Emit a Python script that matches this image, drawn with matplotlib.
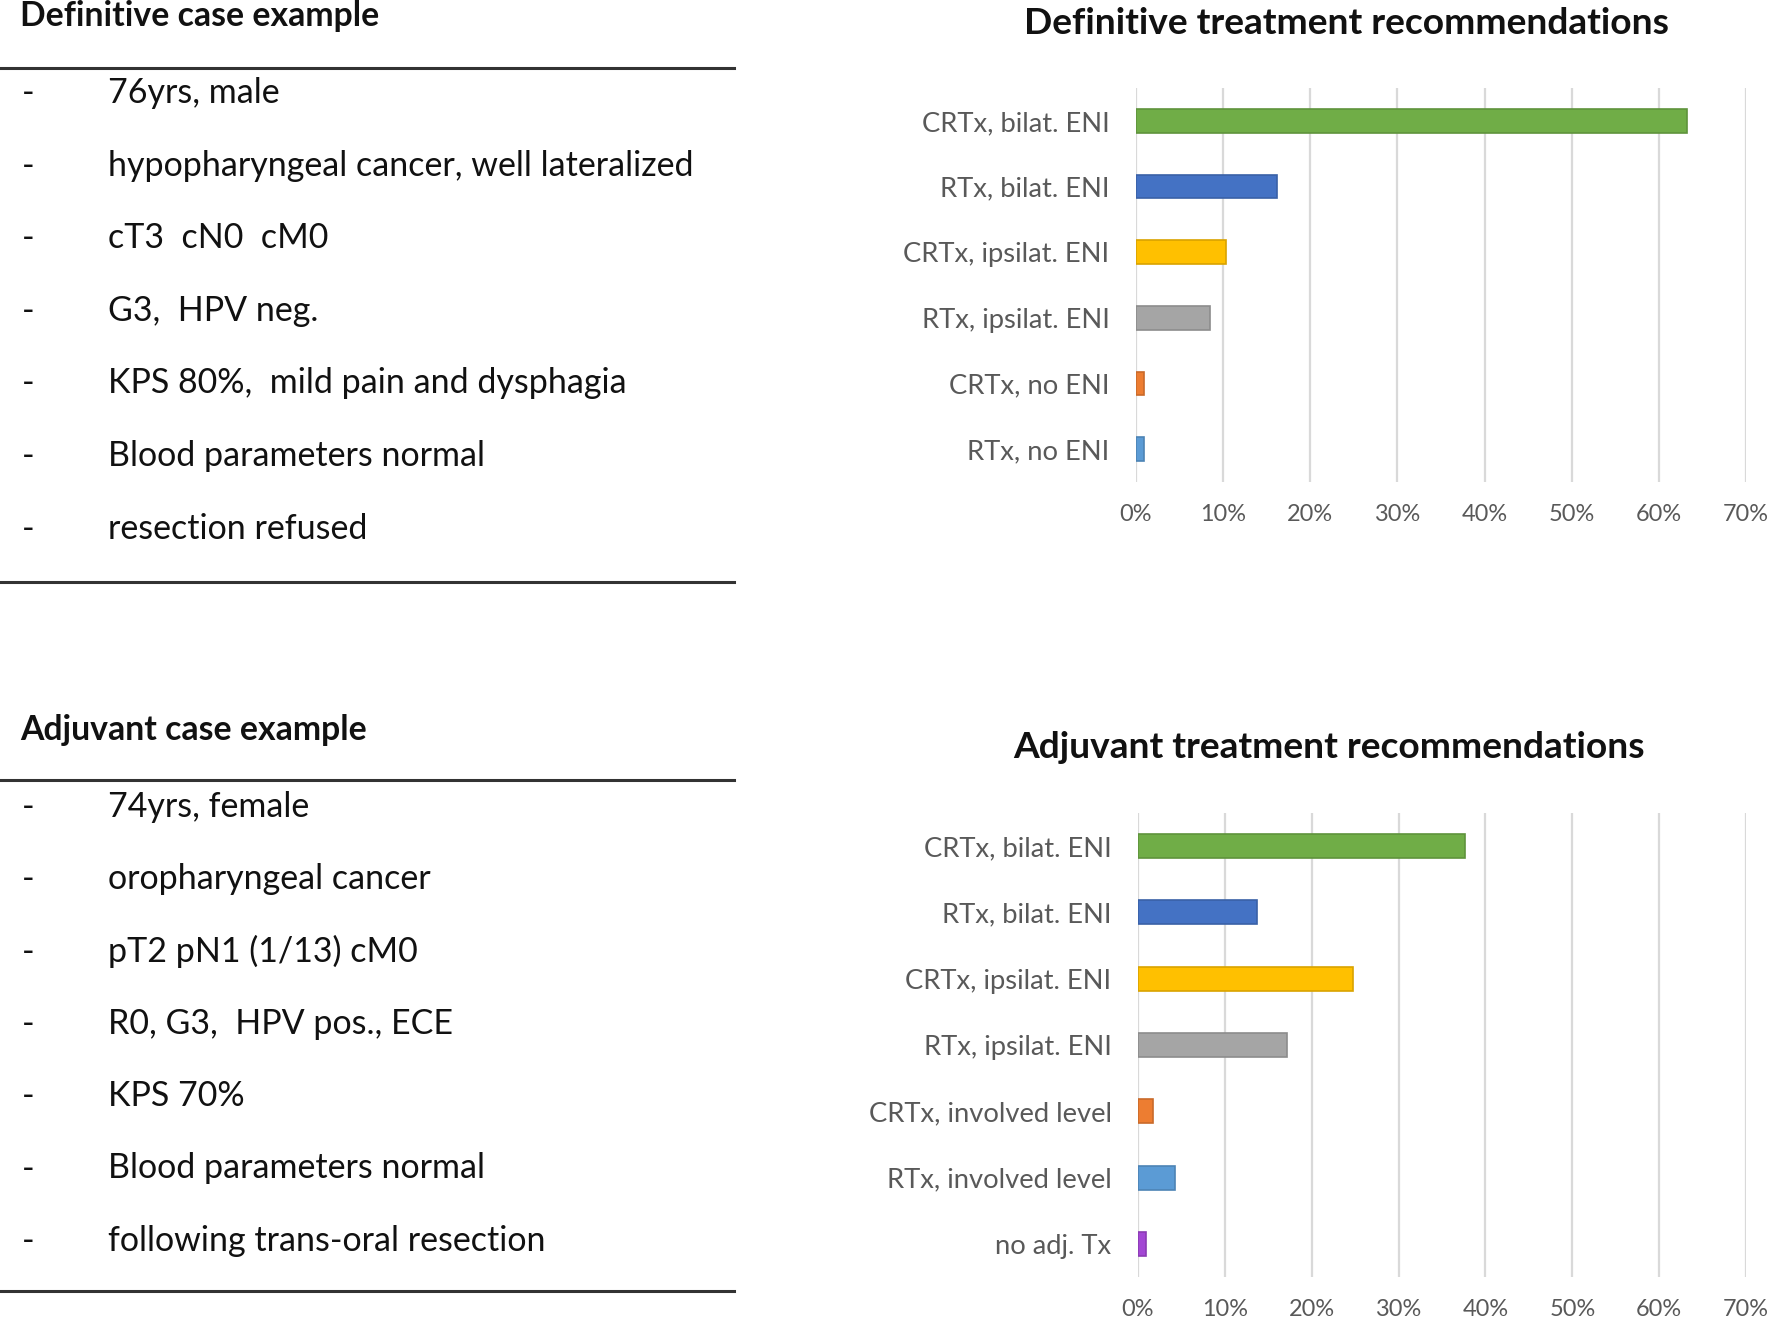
import matplotlib
matplotlib.use("Agg")
import matplotlib.pyplot as plt
import matplotlib.colors as mcolors
import numpy as np

plt.rcParams['font.family'] = ['Lato', 'DejaVu Sans']

# ---- data ----
def_cats = ["CRTx, bilat. ENI", "RTx, bilat. ENI", "CRTx, ipsilat. ENI",
            "RTx, ipsilat. ENI", "CRTx, no ENI", "RTx, no ENI"]
def_vals = [63.2, 16.2, 10.3, 8.5, 0.9, 0.9]

adj_cats = ["CRTx, bilat. ENI", "RTx, bilat. ENI", "CRTx, ipsilat. ENI",
            "RTx, ipsilat. ENI", "CRTx, involved level", "RTx, involved level",
            "no adj. Tx"]
adj_vals = [37.6, 13.7, 24.8, 17.1, 1.7, 4.3, 0.9]

def_items = ["76yrs, male", "hypopharyngeal cancer, well lateralized", "cT3  cN0  cM0",
             "G3,  HPV neg.", "KPS 80%,  mild pain and dysphagia",
             "Blood parameters normal", "resection refused"]
adj_items = ["74yrs, female", "oropharyngeal cancer", "pT2 pN1 (1/13) cM0",
             "R0, G3,  HPV pos., ECE", "KPS 70%", "Blood parameters normal",
             "following trans-oral resection"]

bar_colors = ["#70AD47", "#4472C4", "#FFC000", "#A5A5A5", "#ED7D31", "#5B9BD5", "#A347D4"]
x_ticks = [0, 10, 20, 30, 40, 50, 60, 70]

W, H = 1772, 1324
fig = plt.figure(figsize=(W / 100, H / 100), dpi=100)
fig.patch.set_facecolor("white")
renderer = fig.canvas.get_renderer()


def px(x, y):
    # pixel coords (top-left origin) -> figure fraction
    return x / W, 1 - y / H


def fit_size(text, width_px, weight="normal", start=20):
    t = fig.text(0, 0, text, fontsize=start, fontweight=weight)
    w = t.get_window_extent(renderer).width
    t.remove()
    return start * width_px / w


item_fs = fit_size("hypopharyngeal cancer, well lateralized", 586)
head_fs = fit_size("Definitive case example", 359, "bold")
title_fs = fit_size("Definitive treatment recommendations", 645, "bold")
cat_fs = fit_size("CRTx, bilat. ENI", 188)
tick_fs = fit_size("70%", 46)


def case_block(head, head_y, line1_y, items, item_y0, step, line2_y):
    fig.text(*px(20, head_y), head, fontsize=head_fs, fontweight="bold",
             va="center", ha="left", color="#111111")
    for ly in (line1_y, line2_y):
        fig.add_artist(plt.Line2D([0, 734 / W], [1 - ly / H] * 2, color="#333333", lw=2.2))
    for i, it in enumerate(items):
        y = item_y0 + i * step
        fig.text(*px(22, y), "-", fontsize=item_fs, va="center", ha="left", color="#111111")
        fig.text(*px(108, y), it, fontsize=item_fs, va="center", ha="left", color="#111111")


case_block("Definitive case example", 16, 68, def_items, 93, 72.6, 582)
case_block("Adjuvant case example", 730, 780, adj_items, 807, 72.3, 1291)


def bar_panel(rect, cats, vals, title, title_xy):
    ax = fig.add_axes(rect)
    pos = np.arange(len(cats))
    cols = bar_colors[:len(cats)]
    edges = [tuple(np.array(mcolors.to_rgb(c)) * 0.85) for c in cols]
    ax.barh(pos, vals, height=0.36, color=cols, edgecolor=edges, linewidth=1.2, zorder=3)
    ax.set_xlim(0, 70)
    ax.set_ylim(len(cats) - 0.5, -0.5)
    ax.set_xticks(x_ticks)
    ax.set_xticklabels([f"{t}%" for t in x_ticks], fontsize=tick_fs, color="#595959")
    ax.set_yticks(pos)
    ax.set_yticklabels(cats, fontsize=cat_fs, color="#595959")
    ax.tick_params(axis="x", length=0, pad=16)
    ax.tick_params(axis="y", length=0, pad=19)
    ax.grid(axis="x", color="#D9D9D9", lw=1.6, zorder=0)
    for s in ax.spines.values():
        s.set_visible(False)
    fig.text(*px(*title_xy), title, fontsize=title_fs, fontweight="bold",
             ha="center", va="center", color="#111111")
    return ax


bar_panel([1136 / W, 1 - 482 / H, 610 / W, 394 / H], def_cats, def_vals,
          "Definitive treatment recommendations", (1347, 24))
bar_panel([1138 / W, 1 - 1277 / H, 608 / W, 464 / H], adj_cats, adj_vals,
          "Adjuvant treatment recommendations", (1329, 748))

fig.savefig("out.png", dpi=100, facecolor="white")
